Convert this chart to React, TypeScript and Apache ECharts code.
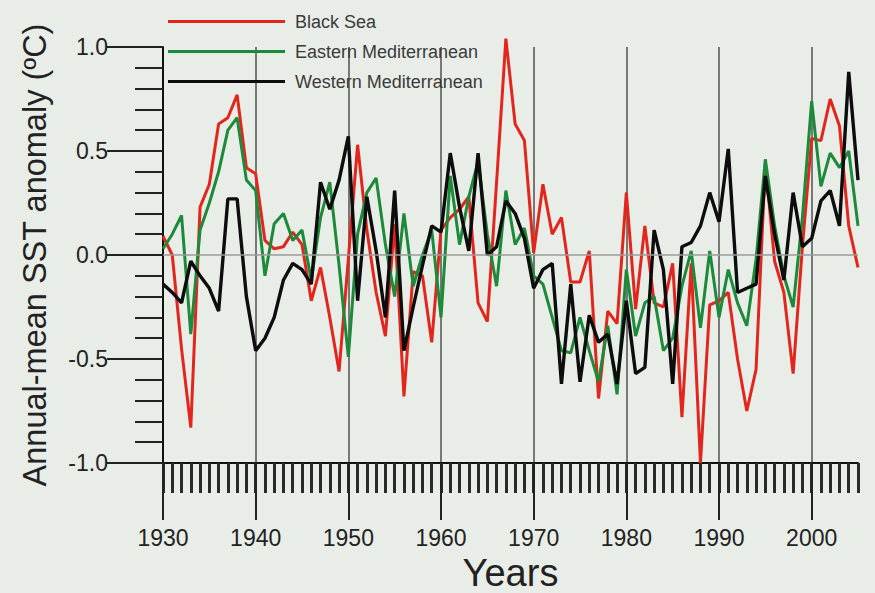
import React, { useEffect, useRef } from 'react';
import * as echarts from 'echarts';

const YEARS: string[] = Array.from({ length: 76 }, (_, i) => String(1930 + i));

const SERIES_NAMES = ['Black Sea', 'Eastern Mediterranean', 'Western Mediterranean'];

// Annual-mean SST anomaly (ºC), 1930–2005
const BLACK_SEA = [
  0.09, 0.0, -0.45, -0.83, 0.23, 0.34, 0.63, 0.66, 0.77, 0.42,
  0.39, 0.07, 0.03, 0.04, 0.11, 0.05, -0.22, -0.06, -0.3, -0.56,
  -0.02, 0.53, 0.12, -0.18, -0.39, 0.15, -0.68, -0.08, -0.1, -0.42,
  0.12, 0.18, 0.22, 0.28, -0.23, -0.32, 0.35, 1.04, 0.63, 0.55,
  0.01, 0.34, 0.1, 0.18, -0.13, -0.13, 0.02, -0.69, -0.27, -0.33,
  0.3, -0.26, 0.14, -0.23, -0.25, -0.04, -0.78, -0.04, -1.0, -0.24,
  -0.22, -0.18, -0.5, -0.75, -0.55, 0.44, -0.03, -0.18, -0.57, 0.04,
  0.56, 0.55, 0.75, 0.62, 0.14, -0.06,
];

const EASTERN_MED = [
  0.03, 0.1, 0.19, -0.38, 0.12, 0.25, 0.4, 0.6, 0.66, 0.36,
  0.31, -0.1, 0.15, 0.2, 0.07, 0.12, -0.12, 0.18, 0.35, -0.05,
  -0.49, 0.1, 0.3, 0.37, 0.05, -0.2, 0.2, -0.15, 0.0, 0.12,
  -0.3, 0.38, 0.05, 0.28, 0.45, 0.1, -0.15, 0.31, 0.05, 0.13,
  -0.1, -0.14, -0.3, -0.46, -0.47, -0.3, -0.46, -0.61, -0.34, -0.67,
  -0.07, -0.39, -0.23, -0.2, -0.46, -0.4, -0.15, 0.02, -0.35, 0.02,
  -0.3, -0.07, -0.23, -0.34, -0.02, 0.46, 0.14, -0.1, -0.25, 0.18,
  0.74, 0.33, 0.49, 0.42, 0.5, 0.14,
];

const WESTERN_MED = [
  -0.14, -0.18, -0.23, -0.03, -0.1, -0.16, -0.27, 0.27, 0.27, -0.2,
  -0.46, -0.4, -0.3, -0.12, -0.04, -0.07, -0.14, 0.35, 0.22, 0.36,
  0.57, -0.22, 0.28, 0.02, -0.3, 0.31, -0.46, -0.25, -0.05, 0.14,
  0.11, 0.49, 0.23, 0.02, 0.49, 0.0, 0.04, 0.26, 0.2, 0.08,
  -0.16, -0.07, -0.04, -0.62, -0.14, -0.61, -0.29, -0.42, -0.38, -0.62,
  -0.22, -0.57, -0.54, 0.12, -0.07, -0.62, 0.04, 0.06, 0.14, 0.3,
  0.16, 0.51, -0.18, -0.16, -0.14, 0.38, 0.1, -0.12, 0.3, 0.04,
  0.08, 0.26, 0.31, 0.14, 0.88, 0.36,
];

const COLORS = ['#e3261d', '#1c8a3a', '#0d0d0d'];
const BG = '#e9ede7';
const FONT = "'Liberation Sans', Arial, sans-serif";

export default function App() {
  const ref = useRef<HTMLDivElement>(null);

  useEffect(() => {
    document.body.style.margin = '0';
    document.body.style.background = BG;
    const chart = echarts.init(ref.current as HTMLDivElement, null, { renderer: 'svg' });
    const isDecade = (_i: number, v: string) => Number(v) % 10 === 0;
    const isInnerDecade = (_i: number, v: string) => Number(v) % 10 === 0 && Number(v) !== 1930;
    const dataSets = [BLACK_SEA, EASTERN_MED, WESTERN_MED];

    chart.setOption({
      animation: false,
      backgroundColor: BG,
      textStyle: { fontFamily: FONT },
      grid: {
        left: 163,
        right: 17,
        top: 47,
        bottom: 130,
        containLabel: false,
        outerBoundsMode: 'none',
      },
      legend: {
        data: SERIES_NAMES.map((name) => ({ name, icon: 'rect' })),
        orient: 'vertical',
        left: 168,
        top: 12,
        padding: 0,
        itemWidth: 117,
        itemHeight: 3,
        itemGap: 11,
        textStyle: {
          fontSize: 18,
          lineHeight: 19,
          color: '#3a3a3a',
          fontFamily: FONT,
          padding: [0, 0, 0, 5],
        },
      },
      xAxis: [
        {
          type: 'category',
          data: YEARS,
          boundaryGap: false,
          axisLine: { show: true, onZero: false, lineStyle: { color: '#111', width: 2 } },
          axisTick: { show: true, interval: 0, length: 30, lineStyle: { color: '#2a2a2a', width: 3 } },
          axisLabel: { show: false },
          splitLine: { show: true, interval: isInnerDecade, lineStyle: { color: '#5a5a5a', width: 1.6 } },
        },
        {
          type: 'category',
          data: YEARS,
          boundaryGap: false,
          position: 'bottom',
          axisLine: { show: false, onZero: false },
          axisTick: { show: true, interval: isDecade, length: 57, lineStyle: { color: '#222', width: 2 } },
          axisLabel: { show: true, interval: isDecade, margin: 63, fontSize: 23, color: '#222', fontFamily: FONT },
          splitLine: { show: false },
          name: 'Years',
          nameLocation: 'middle',
          nameGap: 88,
          nameTextStyle: { fontSize: 38, lineHeight: 38, color: '#222', fontFamily: FONT },
        },
      ],
      yAxis: {
        type: 'value',
        min: -1,
        max: 1,
        interval: 0.5,
        axisLine: { show: true, lineStyle: { color: '#111', width: 2 } },
        axisTick: { show: true, length: 56, lineStyle: { color: '#222', width: 2 } },
        minorTick: { show: true, splitNumber: 5, length: 28, lineStyle: { color: '#222', width: 2 } },
        axisLabel: {
          margin: 55,
          fontSize: 23,
          color: '#222',
          fontFamily: FONT,
          formatter: (v: number) => v.toFixed(1),
        },
        splitLine: { show: false },
        name: 'Annual-mean SST anomaly (ºC)',
        nameLocation: 'middle',
        nameRotate: 90,
        nameGap: 112,
        nameTextStyle: { fontSize: 32.5, color: '#222', fontFamily: FONT },
      },
      series: [
        {
          name: 'zero',
          type: 'line',
          data: [],
          z: 1,
          silent: true,
          markLine: {
            silent: true,
            symbol: 'none',
            label: { show: false },
            lineStyle: { color: '#9b9b9b', width: 1.5, type: 'solid' },
            data: [{ yAxis: 0 }],
          },
        },
        ...SERIES_NAMES.map((name, i) => ({
          name,
          type: 'line',
          data: dataSets[i],
          symbol: 'none',
          clip: false,
          z: 2 + i,
          color: COLORS[i],
          lineStyle: { color: COLORS[i], width: i === 2 ? 3.4 : 3 },
        })),
      ],
    });
    return () => chart.dispose();
  }, []);

  return (
    <div
      ref={ref}
      style={{ position: 'fixed', left: 0, top: 0, width: 875, height: 593, background: BG }}
    />
  );
}
